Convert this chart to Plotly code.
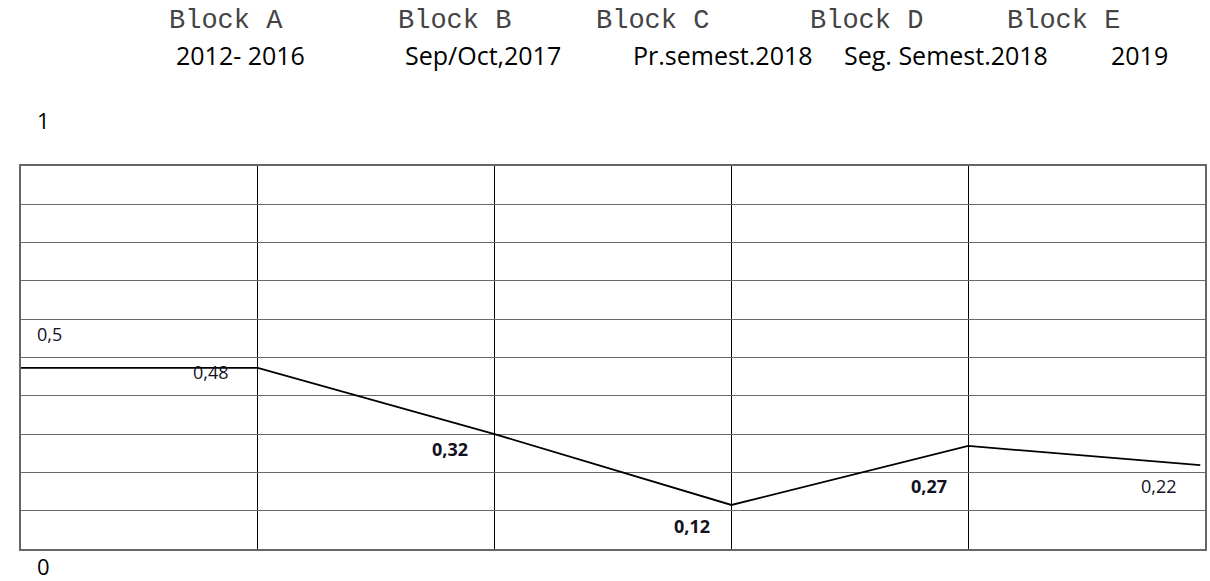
import plotly.graph_objects as go

# ---- data ----
blocks = ["Block A", "Block B", "Block C", "Block D", "Block E"]
periods = ["2012- 2016", "Sep/Oct,2017", "Pr.semest.2018", "Seg. Semest.2018", "2019"]
line_x = [0, 1, 2, 3, 4, 4.98]
line_y = [0.473, 0.473, 0.30, 0.115, 0.269, 0.219]
value_labels = ["0,5", "0,48", "0,32", "0,12", "0,27", "0,22"]
value_bold = [False, False, True, True, True, False]
axis_labels = ["1", "0"]

# ---- geometry helpers (pixel -> paper) ----
L, R, T, B = 20.5, 1205.5, 166, 549
W, H = 1210, 581
def px_x(px):
    return (px - L) / (R - L)
def px_y(py):
    return (B - py) / (B - T)

fig = go.Figure()
fig.add_trace(go.Scatter(x=line_x, y=line_y, mode="lines",
                         line=dict(color="black", width=1.8),
                         hoverinfo="skip", showlegend=False))

def label(text, px, py, family, size, color):
    return dict(x=px_x(px), y=px_y(py), text=text, showarrow=False, borderpad=0,
                xref="paper", yref="paper", xanchor="center", yanchor="middle",
                font=dict(family=family, size=size, color=color))

ann = []
block_px = [226, 454, 653, 867, 1064]
for b, px in zip(blocks, block_px):
    ann.append(label(b, px, 21, "Liberation Mono", 27, "#444"))
period_px = [240, 483, 723, 946, 1140]
for p, px in zip(periods, period_px):
    ann.append(label(p, px, 55, "Open Sans", 25, "black"))
for t, py in zip(axis_labels, [120, 566]):
    ann.append(label(t, 43, py, "Open Sans", 22, "black"))
label_pos = [(49, 334), (211, 372), (450, 449), (692, 526), (929, 486), (1159, 486)]
for t, bold, (px, py) in zip(value_labels, value_bold, label_pos):
    ann.append(label(f"<b>{t}</b>" if bold else t, px, py, "Open Sans", 18, "#111122"))

fig.update_layout(
    width=W, height=H,
    margin=dict(l=L, r=W - R, t=T, b=H - B, pad=0),
    paper_bgcolor="white", plot_bgcolor="white",
    annotations=ann,
    xaxis=dict(range=[0, 5], showgrid=True, gridcolor="black", gridwidth=1,
               dtick=1, tick0=0, showticklabels=False, zeroline=False,
               showline=True, mirror=True, linecolor="#666", linewidth=1.5, ticks=""),
    yaxis=dict(range=[0, 1], showgrid=True, gridcolor="#6a6a6a", gridwidth=1,
               dtick=0.1, tick0=0, showticklabels=False, zeroline=False,
               showline=True, mirror=True, linecolor="#666", linewidth=1.5, ticks=""),
)
fig.write_html("out.html", config={"displayModeBar": False},
               post_script="document.body.style.margin='0';document.body.style.overflow='hidden';")
